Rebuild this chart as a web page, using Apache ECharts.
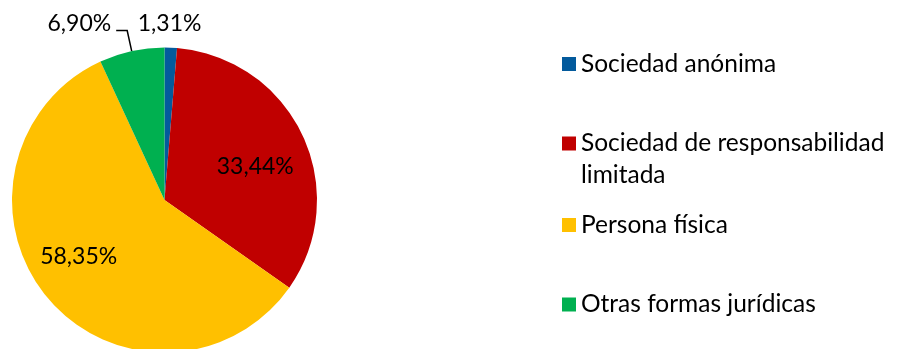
<!DOCTYPE html>
<html>
<head>
<meta charset="utf-8">
<script src="https://cdn.jsdelivr.net/npm/echarts@6/dist/echarts.min.js"></script>
<style>
  html, body { margin: 0; padding: 0; background: #fff; }
  #chart { width: 897px; height: 349px; }
</style>
</head>
<body>
<div id="chart"></div>
<script>
// Legal forms and their share (%)
const categories = [
  'Sociedad anónima',
  'Sociedad de responsabilidad limitada',
  'Persona física',
  'Otras formas jurídicas'
];
const shares = [1.31, 33.44, 58.35, 6.90];
const colors = ['#035A9C', '#C00000', '#FFC000', '#00B050'];

const FONT = 'Lato';
const fmt = v => v.toFixed(2).replace('.', ',') + '%';

const chart = echarts.init(document.getElementById('chart'), null, { renderer: 'canvas' });

// Per-slice label tweaks: the small slices sit outside, the large ones inside
const labelCfg = [
  { position: 'outside' },
  { position: 'inside' },
  { position: 'inside' },
  // blank second line lifts the text above the leader line's end
  { position: 'outside', lineHeight: 14, formatter: p => fmt(p.value) + '\n ' }
];
const lineCfg = [
  { show: false, length: 0, length2: 0 },
  { show: false },
  { show: false },
  { show: true, length: 21, length2: 11, lineStyle: { color: '#000', width: 1.5 } }
];
const labelShift = [
  { dx: -38, dy: -24 },
  { dx: 19, dy: 0 },
  { dx: -25, dy: 6 },
  null
];

const legendLH = 32;
const legendTops = [48, 95.5, 209, 288.5];

const legends = categories.map((name, i) => ({
  data: [name],
  left: 562,
  top: legendTops[i],
  padding: 0,
  orient: 'vertical',
  icon: 'rect',
  itemWidth: 14,
  itemHeight: 14,
  selectedMode: false,
  // the long name wraps; a leading blank line keeps its first line level with the swatch
  formatter: n => n === 'Sociedad de responsabilidad limitada'
    ? ' \nSociedad de responsabilidad\nlimitada' : n,
  textStyle: {
    fontFamily: FONT,
    fontSize: 24.5,
    color: '#000',
    lineHeight: legendLH
  }
}));

chart.setOption({
  animation: false,
  backgroundColor: '#fff',
  legend: legends,
  series: [{
    type: 'pie',
    center: [164.5, 200],
    radius: 152.5,
    startAngle: 90,
    clockwise: true,
    avoidLabelOverlap: false,
    itemStyle: { borderWidth: 0 },
    label: {
      fontFamily: FONT,
      fontSize: 23,
      color: '#000',
      formatter: p => fmt(p.value)
    },
    labelLayout: p => labelShift[p.dataIndex] || {},
    emphasis: { disabled: true },
    data: categories.map((name, i) => ({
      name,
      value: shares[i],
      itemStyle: { color: colors[i] },
      label: labelCfg[i],
      labelLine: lineCfg[i]
    }))
  }]
});
</script>
</body>
</html>
